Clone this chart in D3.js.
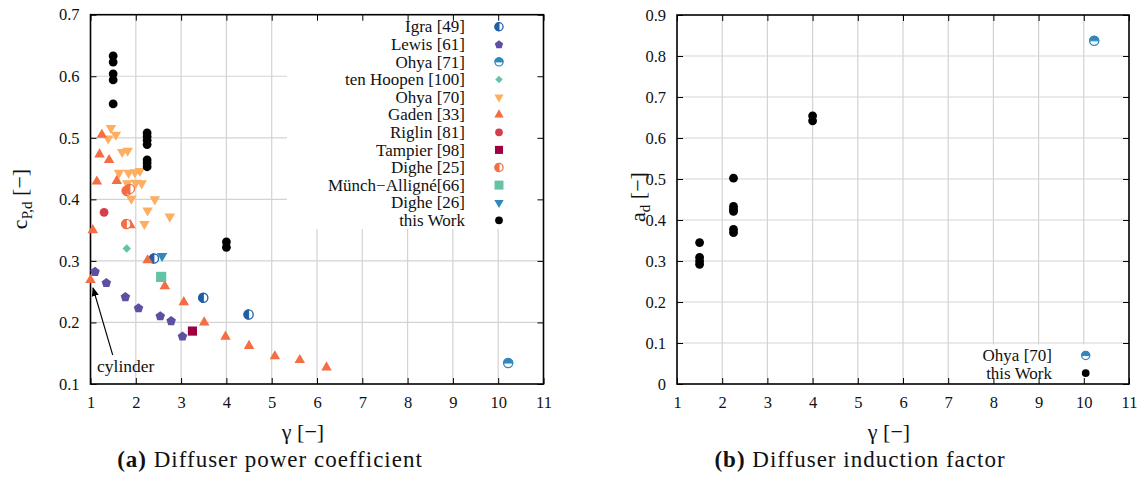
<!DOCTYPE html>
<html>
<head>
<meta charset="utf-8">
<script src="https://cdn.jsdelivr.net/npm/d3@7"></script>
<style>
  body { margin: 0; background: #fff; }
  svg { display: block; font-family: "Liberation Serif", "Times New Roman", serif; }
</style>
</head>
<body>
<svg id="fig" width="1145" height="481"></svg>
<script>
// ---------- data: (gamma, value) pairs per source ----------
const igra49 = [[2.40, 0.304], [3.49, 0.240], [4.49, 0.213]];
const lewis61 = [[1.10, 0.283], [1.35, 0.265], [1.77, 0.242], [2.06, 0.224], [2.54, 0.211], [2.78, 0.203], [3.03, 0.178]];
const ohya71 = [[10.22, 0.134]];
const tenHoopen100 = [[1.80, 0.320]];
const ohya70 = [[1.45, 0.516], [1.39, 0.499], [1.56, 0.505], [1.70, 0.477], [1.82, 0.479], [1.63, 0.443],
                [1.84, 0.443], [1.98, 0.444], [2.09, 0.446], [1.81, 0.426], [2.00, 0.427], [2.13, 0.426],
                [1.90, 0.401], [2.42, 0.400], [2.26, 0.382], [2.75, 0.372], [2.19, 0.360]];
const gaden33 = [[1.00, 0.269], [1.05, 0.350], [1.14, 0.429], [1.20, 0.473], [1.25, 0.505], [1.41, 0.464],
                 [1.58, 0.430], [1.88, 0.358], [2.26, 0.301], [2.64, 0.259], [3.06, 0.233], [3.51, 0.200],
                 [3.98, 0.177], [4.50, 0.162], [5.07, 0.145], [5.62, 0.139], [6.21, 0.127]];
const riglin81 = [[1.30, 0.379]];
const tampier98 = [[3.25, 0.186]];
const dighe25 = [[1.80, 0.414], [1.87, 0.417], [1.79, 0.360]];
const munchAlligne66 = [[2.56, 0.274]];
const dighe26 = [[2.58, 0.308]];
const thisWorkCp = [[1.5, 0.633], [1.5, 0.623], [1.5, 0.604], [1.5, 0.594], [1.5, 0.555],
                    [2.25, 0.508], [2.25, 0.502], [2.25, 0.496], [2.25, 0.489], [2.25, 0.464], [2.25, 0.459], [2.25, 0.453],
                    [4.0, 0.331], [4.0, 0.322]];

const ohya70Ad = [[10.23, 0.837]];
const thisWorkAd = [[1.5, 0.345], [1.5, 0.309], [1.5, 0.300], [1.5, 0.292],
                    [2.25, 0.502], [2.25, 0.433], [2.25, 0.426], [2.25, 0.421], [2.25, 0.377], [2.25, 0.369],
                    [4.0, 0.654], [4.0, 0.642]];

const xTicks = [1, 2, 3, 4, 5, 6, 7, 8, 9, 10, 11];
const yTicksCp = [0.1, 0.2, 0.3, 0.4, 0.5, 0.6, 0.7];
const yTicksAd = [0, 0.1, 0.2, 0.3, 0.4, 0.5, 0.6, 0.7, 0.8, 0.9];

// ---------- series tables ----------
const seriesCp = [
  { name: "Igra [49]", data: igra49, mark: "halfLeft", color: "#1f5ea8" },
  { name: "Lewis [61]", data: lewis61, mark: "pentagon", color: "#5e4fa2" },
  { name: "Ohya [71]", data: ohya71, mark: "halfTop", color: "#3288bd" },
  { name: "ten Hoopen [100]", data: tenHoopen100, mark: "diamond", color: "#66c2a5" },
  { name: "Ohya [70]", data: ohya70, mark: "triDown", color: "#fdae61" },
  { name: "Gaden [33]", data: gaden33, mark: "triUp", color: "#f46d43" },
  { name: "Riglin [81]", data: riglin81, mark: "circle", color: "#d53e4f" },
  { name: "Tampier [98]", data: tampier98, mark: "square", color: "#9e0142" },
  { name: "Dighe [25]", data: dighe25, mark: "halfLeft", color: "#f46d43" },
  { name: "Münch−Alligné[66]", data: munchAlligne66, mark: "squareBig", color: "#66c2a5" },
  { name: "Dighe [26]", data: dighe26, mark: "triDown", color: "#3288bd" },
  { name: "this Work", data: thisWorkCp, mark: "circle", color: "#000000" }
];
const seriesAd = [
  { name: "Ohya [70]", data: ohya70Ad, mark: "halfTop", color: "#3288bd" },
  { name: "this Work", data: thisWorkAd, mark: "circle", color: "#000000" }
];

const svg = d3.select("#fig");
const FONT = "Liberation Serif, Times New Roman, serif";

// ---------- marker drawing ----------
function drawMarker(g, mark, color, x, y, s) {
  // s: scale factor (1 in plot, slightly smaller in legend)
  const r = 4.4 * s;
  if (mark === "circle") {
    g.append("circle").attr("cx", x).attr("cy", y).attr("r", r).attr("fill", color);
  } else if (mark === "halfLeft" || mark === "halfTop") {
    const rr = 4.6 * s;
    g.append("circle").attr("cx", x).attr("cy", y).attr("r", rr)
      .attr("fill", "#fff").attr("stroke", color).attr("stroke-width", 1.3);
    const p = d3.path();
    if (mark === "halfLeft") {
      p.moveTo(x, y - rr); p.arc(x, y, rr, -Math.PI / 2, Math.PI / 2, true); p.closePath();
    } else {
      p.moveTo(x + rr, y); p.arc(x, y, rr, 0, Math.PI, true); p.closePath();
    }
    g.append("path").attr("d", p.toString()).attr("fill", color)
      .attr("stroke", color).attr("stroke-width", 1);
  } else {
    let type, size, rot = 0;
    if (mark === "pentagon") {
      const R = 5 * s;
      const pts = d3.range(5).map(i => {
        const a = -Math.PI / 2 + i * 2 * Math.PI / 5;
        return [x + R * Math.cos(a), y + R * Math.sin(a) + 0.5 * s];
      });
      g.append("polygon").attr("points", pts.map(p => p.join(",")).join(" ")).attr("fill", color);
      return;
    }
    if (mark === "diamond") { type = d3.symbolSquare; size = 36 * s * s; rot = 45; }
    if (mark === "triUp") { type = d3.symbolTriangle; size = 48 * s * s; }
    if (mark === "triDown") { type = d3.symbolTriangle; size = 48 * s * s; rot = 180; }
    if (mark === "square") { type = d3.symbolSquare; size = 84 * s * s; }
    if (mark === "squareBig") { type = d3.symbolSquare; size = 104 * s * s; }
    g.append("path").attr("d", d3.symbol().type(type).size(size)())
      .attr("transform", `translate(${x},${y}) rotate(${rot})`).attr("fill", color);
  }
}

// ---------- one panel ----------
function panel(cfg) {
  const { left, right, top, bottom, yDomain, yTicks, series, yFmt } = cfg;
  const x = d3.scaleLinear().domain([1, 11]).range([left, right]);
  const y = d3.scaleLinear().domain(yDomain).range([bottom, top]);
  const g = svg.append("g");

  // grid
  const grid = g.append("g").attr("stroke", "#d3d3d3").attr("stroke-width", 1.2);
  xTicks.slice(1, -1).forEach(t => {
    grid.append("line").attr("x1", x(t)).attr("x2", x(t)).attr("y1", top).attr("y2", bottom);
  });
  yTicks.slice(1, -1).forEach(t => {
    grid.append("line").attr("x1", left).attr("x2", right).attr("y1", y(t)).attr("y2", y(t));
  });

  // legend backdrop hides grid behind key
  g.append("rect").attr("x", cfg.key.box[0]).attr("y", cfg.key.box[1])
    .attr("width", cfg.key.box[2]).attr("height", cfg.key.box[3]).attr("fill", "#fff");

  // axes with inward ticks on all four sides
  const tl = 6;
  const axB = g.append("g").attr("transform", `translate(0,${bottom})`)
    .call(d3.axisBottom(x).tickValues(xTicks).tickSize(-tl).tickPadding(12).tickFormat(d3.format("d")));
  const axT = g.append("g").attr("transform", `translate(0,${top})`)
    .call(d3.axisTop(x).tickValues(xTicks).tickSize(-tl).tickFormat(""));
  const axL = g.append("g").attr("transform", `translate(${left},0)`)
    .call(d3.axisLeft(y).tickValues(yTicks).tickSize(-tl).tickPadding(11).tickFormat(yFmt));
  const axR = g.append("g").attr("transform", `translate(${right},0)`)
    .call(d3.axisRight(y).tickValues(yTicks).tickSize(-tl).tickFormat(""));
  [axB, axT, axL, axR].forEach(a => {
    a.select(".domain").remove();
    a.selectAll(".tick line").attr("stroke", "#000").attr("stroke-width", 1);
    a.selectAll("text").attr("font-family", FONT).attr("font-size", 16.5).attr("fill", "#111");
  });
  g.append("rect").attr("x", left).attr("y", top).attr("width", right - left).attr("height", bottom - top)
    .attr("fill", "none").attr("stroke", "#000").attr("stroke-width", 1.6);

  // points
  const pts = g.append("g");
  series.forEach(s => s.data.forEach(d => drawMarker(pts, s.mark, s.color, x(d[0]), y(d[1]), 1)));

  // key
  const key = g.append("g");
  series.forEach((s, i) => {
    const ky = cfg.key.y0 + i * cfg.key.dy;
    key.append("text").attr("x", cfg.key.textX).attr("y", ky).attr("dy", "0.33em")
      .attr("text-anchor", "end").attr("font-family", FONT).attr("font-size", 17).attr("fill", "#111")
      .text(s.name);
    drawMarker(key, s.mark, s.color, cfg.key.markX, ky, 0.88);
  });

  return { x, y, g };
}

// ---------- (a) diffuser power coefficient ----------
const pa = panel({
  left: 90.5, right: 543.5, top: 14.7, bottom: 384,
  yDomain: [0.1, 0.7], yTicks: yTicksCp, series: seriesCp, yFmt: d3.format(".1f"),
  key: { box: [287, 15.5, 255.5, 213.5], y0: 26.7, dy: 17.6, textX: 465, markX: 499 }
});

// cylinder annotation
const arrowDefs = svg.append("defs");
arrowDefs.append("marker").attr("id", "arr").attr("viewBox", "0 0 10 10").attr("refX", 9).attr("refY", 5)
  .attr("markerWidth", 9).attr("markerHeight", 9).attr("markerUnits", "userSpaceOnUse").attr("orient", "auto")
  .append("path").attr("d", "M0,1 L10,5 L0,9 z").attr("fill", "#000");
pa.g.append("line").attr("x1", 112.7).attr("y1", 355).attr("x2", pa.x(1.0) + 2.5).attr("y2", pa.y(0.269) + 8)
  .attr("stroke", "#000").attr("stroke-width", 1.1).attr("marker-end", "url(#arr)");
pa.g.append("text").attr("x", 97).attr("y", 372).attr("font-family", FONT).attr("font-size", 17.5)
  .attr("fill", "#111").text("cylinder");

// axis titles (a)
svg.append("text").attr("x", 303).attr("y", 439).attr("text-anchor", "middle")
  .attr("font-family", FONT).attr("font-size", 22).attr("fill", "#111").text("γ [−]");
const yla = svg.append("text").attr("transform", "translate(27,199) rotate(-90)").attr("text-anchor", "middle")
  .attr("font-family", FONT).attr("font-size", 22).attr("fill", "#111");
yla.append("tspan").text("c");
yla.append("tspan").attr("font-size", 15).attr("dy", 5).text("P,d");
yla.append("tspan").attr("dy", -5).text(" [−]");

const capA = svg.append("text").attr("x", 270).attr("y", 467).attr("text-anchor", "middle")
  .attr("font-family", FONT).attr("font-size", 23).attr("letter-spacing", 1).attr("fill", "#111");
capA.append("tspan").attr("font-weight", "bold").text("(a)");
capA.append("tspan").text(" Diffuser power coefficient");

// ---------- (b) diffuser induction factor ----------
const pb = panel({
  left: 677, right: 1129, top: 15, bottom: 384,
  yDomain: [0, 0.9], yTicks: yTicksAd, series: seriesAd, yFmt: d => d === 0 ? "0" : d3.format(".1f")(d),
  key: { box: [965, 344.5, 163.5, 39], y0: 355.5, dy: 17.6, textX: 1052, markX: 1085.7 }
});

svg.append("text").attr("x", 889).attr("y", 439).attr("text-anchor", "middle")
  .attr("font-family", FONT).attr("font-size", 22).attr("fill", "#111").text("γ [−]");
const ylb = svg.append("text").attr("transform", "translate(645,197) rotate(-90)").attr("text-anchor", "middle")
  .attr("font-family", FONT).attr("font-size", 22).attr("fill", "#111");
ylb.append("tspan").text("a");
ylb.append("tspan").attr("font-size", 15).attr("dy", 5).text("d");
ylb.append("tspan").attr("dy", -5).text(" [−]");

const capB = svg.append("text").attr("x", 860).attr("y", 467).attr("text-anchor", "middle")
  .attr("font-family", FONT).attr("font-size", 23).attr("letter-spacing", 1).attr("fill", "#111");
capB.append("tspan").attr("font-weight", "bold").text("(b)");
capB.append("tspan").text(" Diffuser induction factor");
</script>
</body>
</html>
